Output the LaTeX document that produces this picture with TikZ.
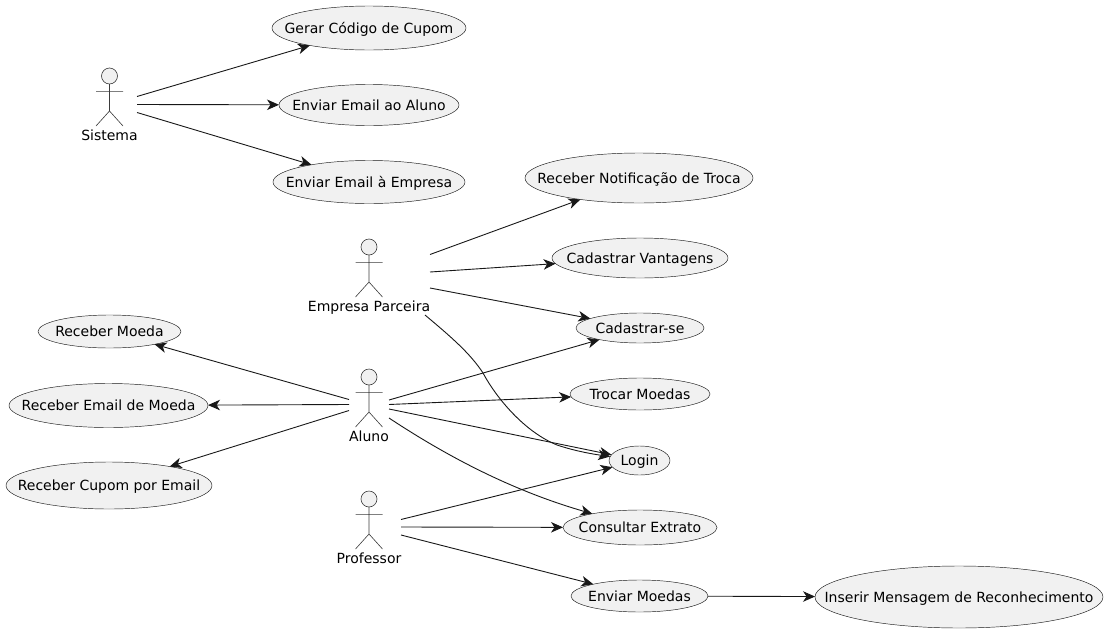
\documentclass[tikz,border=0pt]{standalone}
\usepackage{fontspec}
\setmainfont{DejaVu Sans}
\usetikzlibrary{shapes.geometric,arrows.meta}
\definecolor{ink}{HTML}{181818}
\definecolor{paper}{HTML}{F1F1F1}
\newcommand\uct[1]{\makebox[0pt]{\raisebox{-0.36em}[0pt][0pt]{#1}}}
% #1 head centre
\newcommand\stick[1]{%
  \begin{scope}[shift={(#1)}]
    \draw[figure,fill=paper] (0,0) circle[radius=8];
    \draw[figure] (0,8) -- (0,35) (-13.5,15.4) -- (13.5,15.4) (-13.5,50) -- (0,35) -- (13.5,50);
  \end{scope}}
\tikzset{
  figure/.style={draw=ink!85,line width=0.6pt},
  usecase/.style 2 args={ellipse,draw=ink,fill=paper,line width=0.45pt,inner sep=0pt,outer sep=0pt,
    minimum width=#1pt,minimum height=#2pt,text=black},
  actorbox/.style 2 args={rectangle,draw=none,inner sep=0pt,outer sep=0pt,minimum width=#1pt,minimum height=#2pt},
  actorname/.style={inner sep=0pt,text=black,anchor=base},
  conn/.style={draw=ink,line width=0.9pt,-{Stealth[length=12pt,width=10.5pt,inset=3.5pt]}}
}
\begin{document}
\begin{tikzpicture}[x=1pt,y=-1pt,font=\fontsize{14}{16}\selectfont]
\useasboundingbox (0,0) rectangle (1106,632);
% use cases
\node[usecase={194}{44}] (gerar) at (369,28) {\uct{Gerar Código de Cupom}};
\node[usecase={180}{41}] (ealuno) at (369,105) {\uct{Enviar Email ao Aluno}};
\node[usecase={192}{43}] (eempresa) at (369,182) {\uct{Enviar Email à Empresa}};
\node[usecase={228}{50}] (notif) at (639,178) {\uct{Receber Notificação de Troca}};
\node[usecase={176}{40}] (vant) at (640,258) {\uct{Cadastrar Vantagens}};
\node[usecase={128}{30}] (cad) at (640,328) {\uct{Cadastrar-se}};
\node[usecase={140}{32}] (trocar) at (640,394) {\uct{Trocar Moedas}};
\node[usecase={61}{29}] (login) at (639.5,460.5) {\uct{Login}};
\node[usecase={154}{35}] (extrato) at (640,527.5) {\uct{Consultar Extrato}};
\node[usecase={137}{32}] (envm) at (639.5,596) {\uct{Enviar Moedas}};
\node[usecase={288}{62}] (inserir) at (959,597) {\uct{Inserir Mensagem de Reconhecimento}};
\node[usecase={143}{33}] (rmoeda) at (109.5,331.5) {\uct{Receber Moeda}};
\node[usecase={199}{44}] (remail) at (108.5,405.5) {\uct{Receber Email de Moeda}};
\node[usecase={206}{47}] (rcupom) at (109,485.5) {\uct{Receber Cupom por Email}};
% actors
\stick{109.5,76}
\stick{369,247}
\stick{369,377}
\stick{369,499}
\node[actorname] (sistemal) at (109.5,140) {Sistema};
\node[actorname] (empresal) at (369,311) {Empresa Parceira};
\node[actorname] (alunol) at (369,441) {Aluno};
\node[actorname] (professorl) at (369,563) {Professor};
\node[actorbox={55}{80}] (sistema) at (109.5,104.5) {};
\node[actorbox={122}{80}] (empresa) at (369,272) {};
\node[actorbox={40}{80}] (aluno) at (369,404.5) {};
\node[actorbox={64}{80}] (professor) at (369,527) {};
% connectors
\draw[conn] ([yshift=8pt]sistema.east) -- (gerar);
\draw[conn] (sistema.east) -- (ealuno);
\draw[conn] ([yshift=-8pt]sistema.east) -- (eempresa);
\draw[conn] ([yshift=17.5pt]empresa.east) -- (notif);
\draw[conn] (empresa.east) -- (vant);
\draw[conn] ([yshift=-16pt]empresa.east) -- (cad);
\draw[conn] ([xshift=-5pt,yshift=-43pt]empresa.east) .. controls (450,336) and (470,353) .. (483,373)
  .. controls (497,399) and (525,432) .. (557,445) .. controls (575,451) and (592,454) .. (login);
\draw[conn] ([yshift=4.5pt]aluno.east) -- (cad);
\draw[conn] (aluno.east) -- (trocar);
\draw[conn] ([yshift=-4.5pt]aluno.east) -- (login);
\draw[conn] ([yshift=-13.5pt]aluno.east) .. controls (445,455) and (510,490) .. (extrato);
\draw[conn] ([yshift=5pt]aluno.west) -- (rmoeda);
\draw[conn] (aluno.west) -- (remail);
\draw[conn] ([yshift=-6pt]aluno.west) -- (rcupom);
\draw[conn] ([yshift=7.5pt]professor.east) -- (login);
\draw[conn] (professor.east) -- (extrato);
\draw[conn] ([yshift=-8pt]professor.east) -- (envm);
\draw[conn] (envm) -- (inserir);
\end{tikzpicture}
\end{document}
